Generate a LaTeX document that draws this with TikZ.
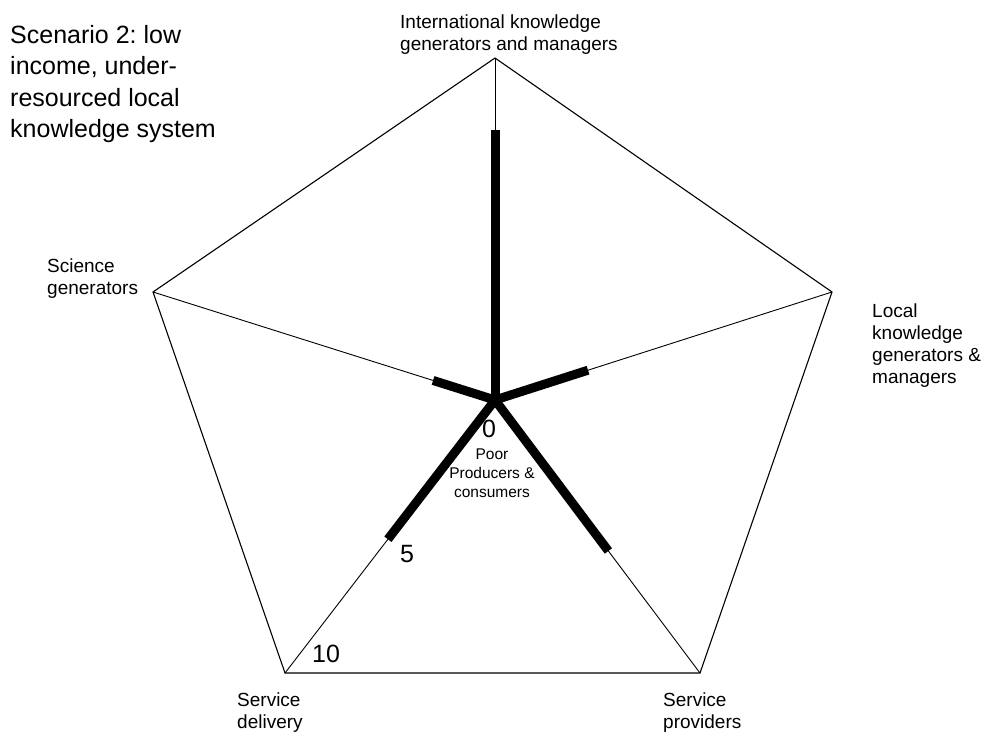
\documentclass[tikz,border=0pt]{standalone}
\usepackage{fontspec}
\setmainfont{Liberation Sans}
\usetikzlibrary{calc}
\frenchspacing
\begin{document}
\begin{tikzpicture}[x=1pt,y=-1pt,
  frame/.style={line width=1.1pt, line join=miter},
  spoke/.style={line width=0.9pt},
  bar/.style={line width=9pt, line cap=butt},
  % multi-line texts: the base anchor sits on the last line
  txt/.style={inner sep=0pt, anchor=base west, align=left},
  axislabel/.style={txt, font=\fontsize{19}{21.7}\selectfont},
  scalelabel/.style={inner sep=0pt, anchor=base, font=\fontsize{25}{30}\selectfont}
]
\useasboundingbox (0,0) rectangle (982,734);

% centre and the five corners of the pentagon
\coordinate (C)  at (495,400);
\coordinate (T)  at (495,58);
\coordinate (R)  at (832,292);
\coordinate (BR) at (700,673);
\coordinate (BL) at (285,673);
\coordinate (L)  at (153,292);

% outline and spokes
\draw[frame] (T) -- (R) -- (BR) -- (BL) -- (L) -- cycle;
\foreach \v in {T,R,BR,BL,L} \draw[spoke] (C) -- (\v);

% scores along each spoke
\draw[bar] (C) -- ($(C)!0.789!(T)$);
\draw[bar] (C) -- ($(C)!0.276!(R)$);
\draw[bar] (C) -- ($(C)!0.181!(L)$);
\draw[bar] (C) -- ($(C)!0.51!(BL)$);
\draw[bar] (C) -- ($(C)!0.553!(BR)$);
\fill (C) circle (4.5);

% title
\node[txt, font=\fontsize{25}{31.5}\selectfont] (title) at (10,137.5)
  {Scenario 2: low\\income, under-\\resourced local\\knowledge system};

% axis labels
\node[axislabel] (lT)  at (400,50)  {International knowledge\\generators and managers};
\node[axislabel] (lL)  at (47,294)  {Science\\generators};
\node[axislabel] (lR)  at (872,383) {Local\\knowledge\\generators \&\\managers};
\node[axislabel] (lBL) at (237,728) {Service\\delivery};
\node[axislabel] (lBR) at (663,728) {Service\\providers};
\node[inner sep=0pt, anchor=base, align=center, font=\fontsize{15.5}{19}\selectfont] (lC)
  at (492,497) {Poor\\Producers \&\\consumers};

% scale marks
\node[scalelabel] (s0)  at (489,437) {0};
\node[scalelabel] (s5)  at (407,562) {5};
\node[scalelabel] (s10) at (326,662) {10};
\end{tikzpicture}
\end{document}
